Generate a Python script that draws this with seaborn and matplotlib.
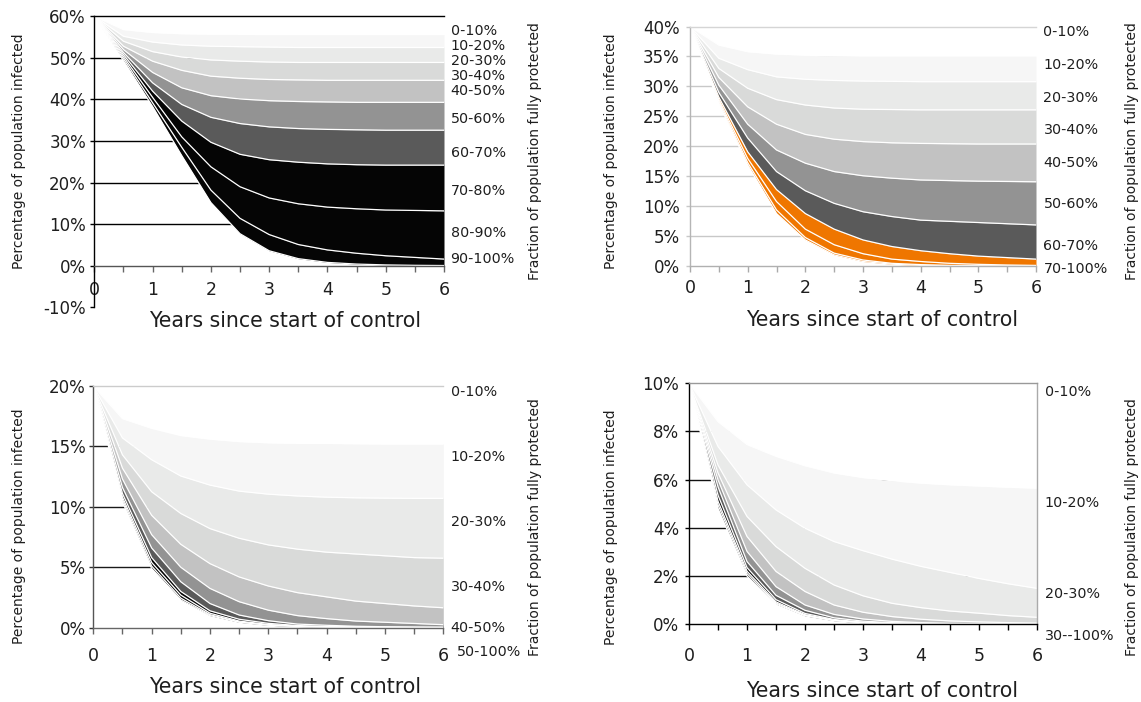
import matplotlib
matplotlib.use("Agg")
import matplotlib.pyplot as plt
from matplotlib.ticker import FixedLocator
import pandas as pd
import seaborn as sns

# ---------------- data ----------------
YEARS = [0.0, 0.5, 1.0, 1.5, 2.0, 2.5, 3.0, 3.5, 4.0, 4.5, 5.0, 5.5, 6.0]
X_TICKS = [0, 1, 2, 3, 4, 5, 6]

P1_Y_TICKS = [-10, 0, 10, 20, 30, 40, 50, 60]
P2_Y_TICKS = [0, 5, 10, 15, 20, 25, 30, 35, 40]
P3_Y_TICKS = [0, 5, 10, 15, 20]
P4_Y_TICKS = [0, 2, 4, 6, 8, 10]

P1_LABELS = ["0-10%", "10-20%", "20-30%", "30-40%", "40-50%", "50-60%",
             "60-70%", "70-80%", "80-90%", "90-100%"]
P2_LABELS = ["0-10%", "10-20%", "20-30%", "30-40%", "40-50%", "50-60%",
             "60-70%", "70-100%"]
P3_LABELS = ["0-10%", "10-20%", "20-30%", "30-40%", "40-50%", "50-100%"]
P4_LABELS = ["0-10%", "10-20%", "20-30%", "30--100%"]

# boundary curves (% infected) : lower edge of band k, k = 0..9
P1_CURVES = [
    [60, 56.8, 56.1, 55.8, 55.7, 55.65, 55.6, 55.6, 55.6, 55.6, 55.6, 55.6, 55.6],
    [60, 55.2, 53.8, 53.1, 52.8, 52.7, 52.6, 52.5, 52.5, 52.5, 52.5, 52.5, 52.5],
    [60, 54.0, 51.5, 50.2, 49.5, 49.2, 49.0, 48.9, 48.9, 48.9, 48.9, 48.9, 48.9],
    [60, 52.8, 49.2, 47.0, 45.6, 45.1, 44.8, 44.7, 44.6, 44.6, 44.6, 44.6, 44.6],
    [60, 52.0, 46.5, 42.8, 40.9, 40.1, 39.7, 39.5, 39.4, 39.3, 39.3, 39.3, 39.3],
    [60, 51.3, 44.0, 38.8, 35.7, 34.2, 33.4, 33.0, 32.8, 32.7, 32.6, 32.6, 32.6],
    [60, 50.8, 42.0, 34.8, 29.7, 26.8, 25.5, 24.9, 24.5, 24.3, 24.2, 24.2, 24.2],
    [60, 50.3, 40.5, 31.0, 23.8, 19.0, 16.3, 14.9, 14.1, 13.7, 13.4, 13.3, 13.2],
    [60, 49.8, 39.2, 28.5, 18.2, 11.4, 7.5, 5.1, 3.8, 3.0, 2.4, 2.0, 1.6],
    [60, 49.3, 38.3, 26.5, 15.2, 7.7, 3.6, 1.7, 0.8, 0.4, 0.2, 0.1, 0.05],
]
P2_CURVES = [
    [40, 36.9, 35.8, 35.4, 35.2, 35.1, 35.05, 35.05, 35.05, 35.05, 35.05, 35.05, 35.05],
    [40, 34.7, 32.8, 31.6, 31.2, 31.0, 30.9, 30.85, 30.8, 30.8, 30.8, 30.8, 30.8],
    [40, 33.0, 29.7, 27.8, 26.9, 26.4, 26.2, 26.15, 26.1, 26.1, 26.1, 26.1, 26.1],
    [40, 31.5, 26.6, 23.7, 22.0, 21.2, 20.8, 20.6, 20.5, 20.45, 20.4, 20.4, 20.4],
    [40, 30.2, 23.7, 19.4, 17.2, 15.8, 15.1, 14.7, 14.4, 14.3, 14.2, 14.15, 14.1],
    [40, 29.0, 21.4, 15.8, 12.6, 10.5, 9.1, 8.3, 7.7, 7.5, 7.3, 7.1, 6.9],
    [40, 28.2, 19.1, 12.8, 8.8, 6.2, 4.4, 3.3, 2.6, 2.1, 1.7, 1.45, 1.2],
    [40, 27.8, 18.0, 10.8, 6.2, 3.6, 2.1, 1.2, 0.8, 0.5, 0.33, 0.22, 0.15],
    [40, 27.5, 17.3, 9.4, 4.8, 2.2, 1.05, 0.5, 0.28, 0.16, 0.1, 0.07, 0.05],
    [40, 27.2, 16.9, 8.8, 4.4, 1.9, 0.8, 0.35, 0.15, 0.08, 0.04, 0.02, 0.01],
]
P3_CURVES = [
    [20, 17.3, 16.5, 15.9, 15.6, 15.4, 15.3, 15.25, 15.25, 15.22, 15.2, 15.2, 15.2],
    [20, 15.7, 13.9, 12.55, 11.8, 11.3, 11.05, 10.9, 10.8, 10.75, 10.72, 10.7, 10.7],
    [20, 14.3, 11.25, 9.45, 8.2, 7.4, 6.85, 6.5, 6.25, 6.1, 5.95, 5.8, 5.75],
    [20, 13.2, 9.3, 6.9, 5.3, 4.2, 3.45, 2.9, 2.55, 2.2, 2.0, 1.8, 1.65],
    [20, 12.3, 7.7, 5.0, 3.25, 2.15, 1.45, 1.0, 0.75, 0.55, 0.45, 0.35, 0.25],
    [20, 11.6, 6.6, 3.8, 2.0, 1.05, 0.58, 0.3, 0.2, 0.12, 0.08, 0.05, 0.04],
    [20, 11.1, 5.8, 3.0, 1.4, 0.7, 0.36, 0.18, 0.1, 0.06, 0.04, 0.03, 0.02],
    [20, 10.8, 5.4, 2.7, 1.2, 0.55, 0.27, 0.13, 0.07, 0.04, 0.025, 0.02, 0.012],
    [20, 10.6, 5.1, 2.45, 1.08, 0.48, 0.22, 0.11, 0.06, 0.03, 0.02, 0.012, 0.01],
    [20, 10.4, 4.9, 2.3, 1.0, 0.45, 0.2, 0.1, 0.05, 0.025, 0.015, 0.01, 0.005],
]
P4_CURVES = [
    [10, 8.4, 7.45, 6.96, 6.57, 6.27, 6.08, 5.95, 5.85, 5.78, 5.73, 5.68, 5.64],
    [10, 7.37, 5.78, 4.74, 3.98, 3.43, 3.05, 2.7, 2.4, 2.15, 1.9, 1.68, 1.49],
    [10, 6.6, 4.47, 3.22, 2.32, 1.63, 1.18, 0.87, 0.69, 0.55, 0.46, 0.36, 0.29],
    [10, 6.27, 3.64, 2.19, 1.36, 0.8, 0.5, 0.32, 0.21, 0.14, 0.1, 0.07, 0.05],
    [10, 5.99, 3.02, 1.56, 0.8, 0.41, 0.22, 0.12, 0.07, 0.04, 0.03, 0.02, 0.015],
    [10, 5.7, 2.6, 1.2, 0.58, 0.27, 0.13, 0.07, 0.04, 0.025, 0.015, 0.01, 0.008],
    [10, 5.35, 2.35, 1.02, 0.45, 0.2, 0.09, 0.045, 0.025, 0.015, 0.01, 0.007, 0.005],
    [10, 5.1, 2.2, 0.93, 0.4, 0.17, 0.07, 0.035, 0.02, 0.01, 0.007, 0.005, 0.003],
    [10, 4.95, 2.1, 0.88, 0.37, 0.16, 0.065, 0.03, 0.015, 0.008, 0.005, 0.003, 0.002],
    [10, 4.8, 2.0, 0.84, 0.35, 0.15, 0.06, 0.025, 0.01, 0.005, 0.003, 0.002, 0.001],
]

X_LABEL = "Years since start of control"
Y_LABEL = "Percentage of population infected"
R_LABEL = "Fraction of population fully protected"

# ---------------- styles ----------------
GRAYS = ["#ffffff", "#f6f6f6", "#e9eae9", "#d9dad9", "#c2c2c2", "#939393",
         "#5a5a5a", "#050505", "#050505", "#050505"]
ORANGE = "#ef7600"
P2_COLORS = GRAYS[:7] + [ORANGE] * 3

sns.set_theme(style="white")
plt.rcParams["font.family"] = ["DejaVu Sans"]
TXT = "#1e1e1e"

W, H = 1141, 702
fig = plt.figure(figsize=(W / 100, H / 100), dpi=100)


def rect(l, t, r, b):
    return [l / W, 1 - b / H, (r - l) / W, (b - t) / H]


def fx(x):
    return x / W


def fy(y):
    return 1 - y / H


PANELS = [
    dict(curves=P1_CURVES, colors=GRAYS, yticks=P1_Y_TICKS, ylim=(-10, 60),
         rect=rect(94.3, 16.3, 444, 307.3), grid=[10, 20, 30, 40, 50], gcol="#000000",
         left="#000000", top="#000000", bottom="#555555", right=None, tickc="#666666",
         ytickc="#000000", labels=P1_LABELS,
         label_y=[56.4, 52.8, 49.2, 45.6, 42.0, 35.4, 27.0, 18.0, 7.9, 1.6],
         label_dx=[6.5] * 10, xpad=6.7, ypad=3.0, yfs=12.0,
         ylab=(19, 151), rlab=(535, 151.5), xlab=(285, 321)),
    dict(curves=P2_CURVES, colors=P2_COLORS, yticks=P2_Y_TICKS, ylim=(0, 40),
         rect=rect(690, 26.5, 1036, 266.3), grid=[5, 10, 15, 20, 25, 30, 35], gcol="#c8c8c8",
         left="#b5b5b5", top="#d5d5d5", bottom="#b0b0b0", right=None, tickc="#aaaaaa",
         ytickc="#c8c8c8", labels=P2_LABELS,
         label_y=[39.0, 33.6, 28.0, 22.7, 17.2, 10.4, 3.4, -0.5],
         label_dx=[7.5] * 8, xpad=4.3, ypad=4.5, yfs=12.0,
         ylab=(611, 151.5), rlab=(1132, 151), xlab=(882, 320)),
    dict(curves=P3_CURVES, colors=GRAYS, yticks=P3_Y_TICKS, ylim=(0, 20),
         rect=rect(93.3, 386, 443.3, 627.7), grid=[5, 10, 15], gcol="#1a1a1a",
         left="#555555", top="#cccccc", bottom="#666666", right=None, tickc="#666666",
         ytickc="#333333", labels=P3_LABELS,
         label_y=[19.5, 14.15, 8.77, 3.39, -0.06, -1.99],
         label_dx=[7.4, 7.4, 7.4, 7.4, 7.4, 13.7], xpad=9.2, ypad=2.4, yfs=12.0,
         ylab=(19, 526), rlab=(535.5, 526.7), xlab=(285, 687)),
    dict(curves=P4_CURVES, colors=GRAYS, yticks=P4_Y_TICKS, ylim=(0, 10),
         rect=rect(689, 383, 1037, 624.3), grid=[2, 4, 6, 8], gcol="#111111",
         left="#000000", top="#999999", bottom="#000000", right="#aaaaaa", tickc="#000000",
         ytickc="#000000", labels=P4_LABELS,
         label_y=[9.63, 5.02, 1.24, -0.48],
         label_dx=[7.5] * 4, xpad=11.6, ypad=4.0, yfs=12.0,
         ylab=(611, 526.7), rlab=(1132, 526.7), xlab=(882, 691)),
]

for p in PANELS:
    ax = fig.add_axes(p["rect"])
    ymin, ymax = p["ylim"]
    curves = p["curves"]
    # gridlines behind the bands
    for g in p["grid"]:
        ax.axhline(g, color=p["gcol"], lw=1.0, zorder=0.5)
    # bands
    upper = [ymax] * len(YEARS)
    for k, col in enumerate(p["colors"]):
        top = upper if k == 0 else curves[k - 1]
        ax.fill_between(YEARS, curves[k], top, color=col, lw=0, zorder=1)
    # white boundary lines (seaborn)
    df = pd.DataFrame([{"t": t, "v": v, "b": i}
                       for i, c in enumerate(curves) for t, v in zip(YEARS, c)])
    sns.lineplot(data=df, x="t", y="v", units="b", estimator=None, color="white",
                 lw=0.9, ax=ax, zorder=2, legend=False)

    ax.set_xlim(0, 6)
    ax.set_ylim(ymin, ymax)
    ax.set_xlabel("")
    ax.set_ylabel("")
    ax.set_facecolor("none")

    # spines
    for side in ["left", "top", "bottom", "right"]:
        ax.spines[side].set_visible(False)
    ax.spines["left"].set_visible(True)
    ax.spines["left"].set_color(p["left"])
    ax.spines["left"].set_linewidth(1.0)
    ax.spines["top"].set_visible(True)
    ax.spines["top"].set_color(p["top"])
    ax.spines["top"].set_linewidth(1.0)
    ax.spines["bottom"].set_visible(True)
    ax.spines["bottom"].set_color(p["bottom"])
    ax.spines["bottom"].set_linewidth(1.0)
    ax.spines["bottom"].set_position(("data", 0))
    if p["right"]:
        ax.spines["right"].set_visible(True)
        ax.spines["right"].set_color(p["right"])
        ax.spines["right"].set_linewidth(1.0)
    for s in ax.spines.values():
        s.set_zorder(3)

    # ticks
    ax.xaxis.set_major_locator(FixedLocator(X_TICKS))
    ax.xaxis.set_minor_locator(FixedLocator([t for t in YEARS if t not in X_TICKS]))
    ax.set_xticklabels([str(t) for t in X_TICKS])
    ax.tick_params(axis="x", which="both", direction="out", length=4.5, width=1.0,
                   color=p["tickc"], bottom=True, top=False)
    ax.tick_params(axis="x", which="major", pad=p["xpad"], labelsize=12.5, labelcolor=TXT)
    ax.set_yticks(p["yticks"])
    ax.set_yticklabels([f"{v}%" for v in p["yticks"]])
    ax.tick_params(axis="y", which="major", direction="out", length=3.0, width=1.0,
                   color=p["ytickc"], left=True, right=False, pad=p["ypad"],
                   labelsize=p["yfs"], labelcolor=TXT)
    ax.grid(False)

    # band labels on the right
    axw_px = p["rect"][2] * W
    tr = ax.get_yaxis_transform()
    for lab, ly, dx in zip(p["labels"], p["label_y"], p["label_dx"]):
        ax.text(1 + dx / axw_px, ly, lab, transform=tr, ha="left", va="center",
                fontsize=10.3, color=TXT, clip_on=False)

    # axis titles
    fig.text(fx(p["ylab"][0]), fy(p["ylab"][1]), Y_LABEL, rotation=90,
             ha="center", va="center", fontsize=10, color=TXT)
    fig.text(fx(p["rlab"][0]), fy(p["rlab"][1]), R_LABEL, rotation=90,
             ha="center", va="center", fontsize=10, color=TXT)
    fig.text(fx(p["xlab"][0]), fy(p["xlab"][1]), X_LABEL,
             ha="center", va="center", fontsize=14.8, color=TXT)

fig.savefig("out.png", dpi=100)
